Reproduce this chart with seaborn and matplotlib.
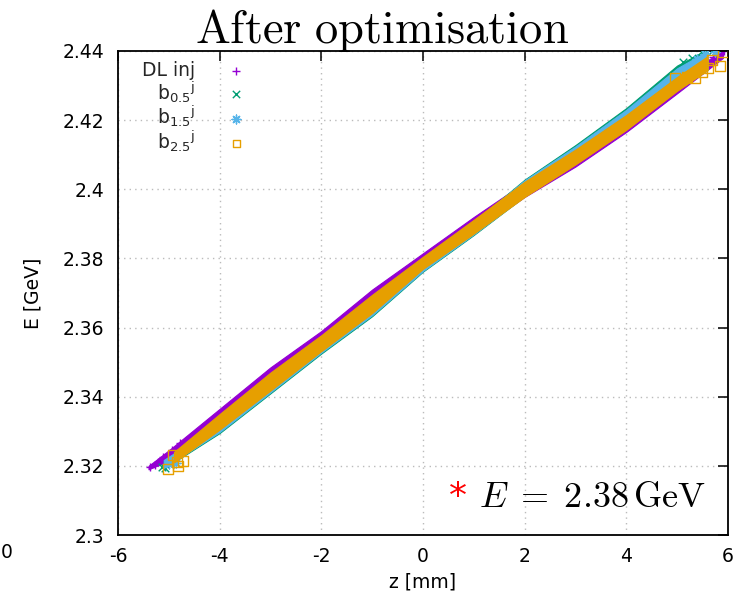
import numpy as np
import pandas as pd
import matplotlib
matplotlib.use("Agg")
import matplotlib.pyplot as plt
from matplotlib.ticker import FixedLocator
import seaborn as sns

# ---------------- data ----------------
labels = ["DL inj", r"b$_{0.5}$$^{\mathrm{j}}$", r"b$_{1.5}$$^{\mathrm{j}}$", r"b$_{2.5}$$^{\mathrm{j}}$"]
colors = ["#9400d3", "#009e73", "#56b4e9", "#e69f00"]

# dense bunch core: z [mm] knots with upper / lower energy edge [GeV]
dl_z     = [-5.4, -5.0, -4.0, -3.0, -2.0, -1.0, 0.0, 1.0, 2.0, 3.0, 4.0, 5.0, 5.9]
dl_upper = [2.3200, 2.3245, 2.3365, 2.3485, 2.3590, 2.3710, 2.3815, 2.3920, 2.4020, 2.4112, 2.4210, 2.4320, 2.4400]
dl_lower = [2.3190, 2.3215, 2.3320, 2.3432, 2.3545, 2.3660, 2.3770, 2.3876, 2.3978, 2.4066, 2.4166, 2.4278, 2.4380]

b05_z     = [-5.1, -4.0, -3.0, -2.0, -1.0, 0.0, 1.0, 2.0, 3.0, 4.0, 5.0, 5.6]
b05_upper = [2.3215, 2.3320, 2.3435, 2.3550, 2.3665, 2.3790, 2.3905, 2.4028, 2.4128, 2.4235, 2.4358, 2.4405]
b05_lower = [2.3192, 2.3295, 2.3410, 2.3525, 2.3633, 2.3762, 2.3868, 2.3980, 2.4080, 2.4180, 2.4290, 2.4345]

b15_z     = [-5.1, -4.0, -3.0, -2.0, -1.0, 0.0, 1.0, 2.0, 3.0, 4.0, 5.0, 5.6]
b15_upper = [2.3217, 2.3322, 2.3437, 2.3552, 2.3667, 2.3792, 2.3905, 2.4026, 2.4124, 2.4230, 2.4350, 2.4400]
b15_lower = [2.3194, 2.3298, 2.3413, 2.3528, 2.3636, 2.3764, 2.3870, 2.3980, 2.4080, 2.4180, 2.4290, 2.4345]

b25_z     = [-4.9, -4.0, -3.0, -2.0, -1.0, 0.0, 1.0, 2.0, 3.0, 4.0, 5.0, 5.6]
b25_upper = [2.3240, 2.3350, 2.3470, 2.3578, 2.3695, 2.3805, 2.3912, 2.4022, 2.4115, 2.4215, 2.4325, 2.4385]
b25_lower = [2.3210, 2.3305, 2.3418, 2.3532, 2.3642, 2.3770, 2.3872, 2.3978, 2.4072, 2.4172, 2.4285, 2.4345]

# sparse particles in the head / tail
dl_tail_z  = [-5.37, -5.28, -5.21, -5.11, -4.94, -4.78, 4.76, 5.70, 5.92]
dl_tail_E  = [2.3197, 2.3203, 2.3211, 2.3226, 2.3246, 2.3266, 2.4287, 2.4383, 2.4400]
b05_tail_z = [-5.13, -5.08, -4.95, 5.12, 5.30, 5.49, 5.69]
b05_tail_E = [2.3197, 2.3194, 2.3205, 2.4368, 2.4380, 2.4400, 2.4400]
b15_tail_z = [-5.00, -4.92, -4.85, 5.40, 5.55, 5.75]
b15_tail_E = [2.3205, 2.3217, 2.3208, 2.4378, 2.4392, 2.4398]
b25_tail_z = [-5.02, -4.92, -4.84, -4.82, -4.72, 4.96, 5.19, 5.35, 5.49, 5.60, 5.69, 5.84, 5.90]
b25_tail_E = [2.3191, 2.3231, 2.3211, 2.3200, 2.3214, 2.4322, 2.4325, 2.4322, 2.4339, 2.4351, 2.4374, 2.4357, 2.4398]

xticks = [-6, -4, -2, 0, 2, 4, 6]
yticks = [2.3, 2.32, 2.34, 2.36, 2.38, 2.4, 2.42, 2.44]
ytick_labels = ["2.3", "2.32", "2.34", "2.36", "2.38", "2.4", "2.42", "2.44"]

# ---------------- figure ----------------
sns.set_theme(style="white")
plt.rcParams["font.family"] = ["DejaVu Sans"]
plt.rcParams["mathtext.fontset"] = "dejavusans"

W, H = 739, 592
fig = plt.figure(figsize=(W / 100, H / 100), dpi=100)
ax = fig.add_axes([118 / W, 57 / H, 610 / W, 484 / H])

bands = [(dl_z, dl_lower, dl_upper), (b05_z, b05_lower, b05_upper),
         (b15_z, b15_lower, b15_upper), (b25_z, b25_lower, b25_upper)]
tails = [(dl_tail_z, dl_tail_E), (b05_tail_z, b05_tail_E),
         (b15_tail_z, b15_tail_E), (b25_tail_z, b25_tail_E)]
markers = ["+", "x", (8, 2, 0), "s"]
sizes = [40, 30, 40, 55]
legend_sizes = [40, 28, 40, 30]

for i in range(4):
    bz, blo, bup = bands[i]
    ax.fill_between(bz, blo, bup, color=colors[i], linewidth=0.8,
                    edgecolor=colors[i], zorder=2 + i)
    tz, tE = tails[i]
    kw = dict(marker=markers[i], s=sizes[i], linewidths=1.0, zorder=2.5 + i, label=labels[i])
    if markers[i] == "s":
        kw.update(color=colors[i], facecolor="none", edgecolor=colors[i])
    else:
        kw.update(color=colors[i])
    sns.scatterplot(x=tz, y=tE, ax=ax, legend=False, **kw)

ax.set_xlim(-6, 6)
ax.set_ylim(2.3, 2.44)
ax.xaxis.set_major_locator(FixedLocator(xticks))
ax.yaxis.set_major_locator(FixedLocator(yticks))
ax.set_xticklabels([str(t) for t in xticks])
ax.set_yticklabels(ytick_labels)
ax.tick_params(direction="in", length=7, width=1.1, color="black",
               top=True, right=True, labelsize=13.5, labelcolor="black")
ax.tick_params(axis="y", pad=10)
ax.tick_params(axis="x", pad=9)
ax.grid(True, color="#bbbbbb", linestyle=(0, (1, 3)), linewidth=1.0)
ax.set_axisbelow(True)
for sp in ax.spines.values():
    sp.set_color("black")
    sp.set_linewidth(1.3)

ax.set_xlabel("z [mm]", fontsize=13.5, color="black", labelpad=4)
ax.set_ylabel("E [GeV]", fontsize=13.5, color="black", labelpad=14)

# legend (text first, marker after, like gnuplot)
handles, labs = ax.get_legend_handles_labels()
leg = ax.legend(handles, labs, loc="upper left", markerfirst=False, frameon=False,
                fontsize=13.5, handlelength=2.0, handletextpad=1.2,
                labelspacing=-0.05, borderpad=0.0, borderaxespad=0.0,
                bbox_to_anchor=((142 - 118) / 610, 1 - (61 - 51) / 484))
for h, sz in zip(leg.legend_handles, legend_sizes):
    h.set_sizes([sz])

# title and annotation
fig.text(382.5 / W, 1 - 43 / H, r"$\mathrm{After\ optimisation}$", ha="center",
         va="baseline", fontsize=33.5, math_fontfamily="cm", color="black")
fig.text(458 / W, 1 - 507 / H, "*", ha="center", va="baseline", fontsize=26,
         color="red")
fig.text(479 / W, 1 - 507 / H, r"$E\;=\;2.38\,\mathrm{GeV}$", ha="left",
         va="baseline", fontsize=26, math_fontfamily="cm", color="black")
fig.text(1 / W, 1 - 553 / H, "0", ha="left", va="center", fontsize=13.5, color="black")

fig.savefig("out.png", dpi=100)
